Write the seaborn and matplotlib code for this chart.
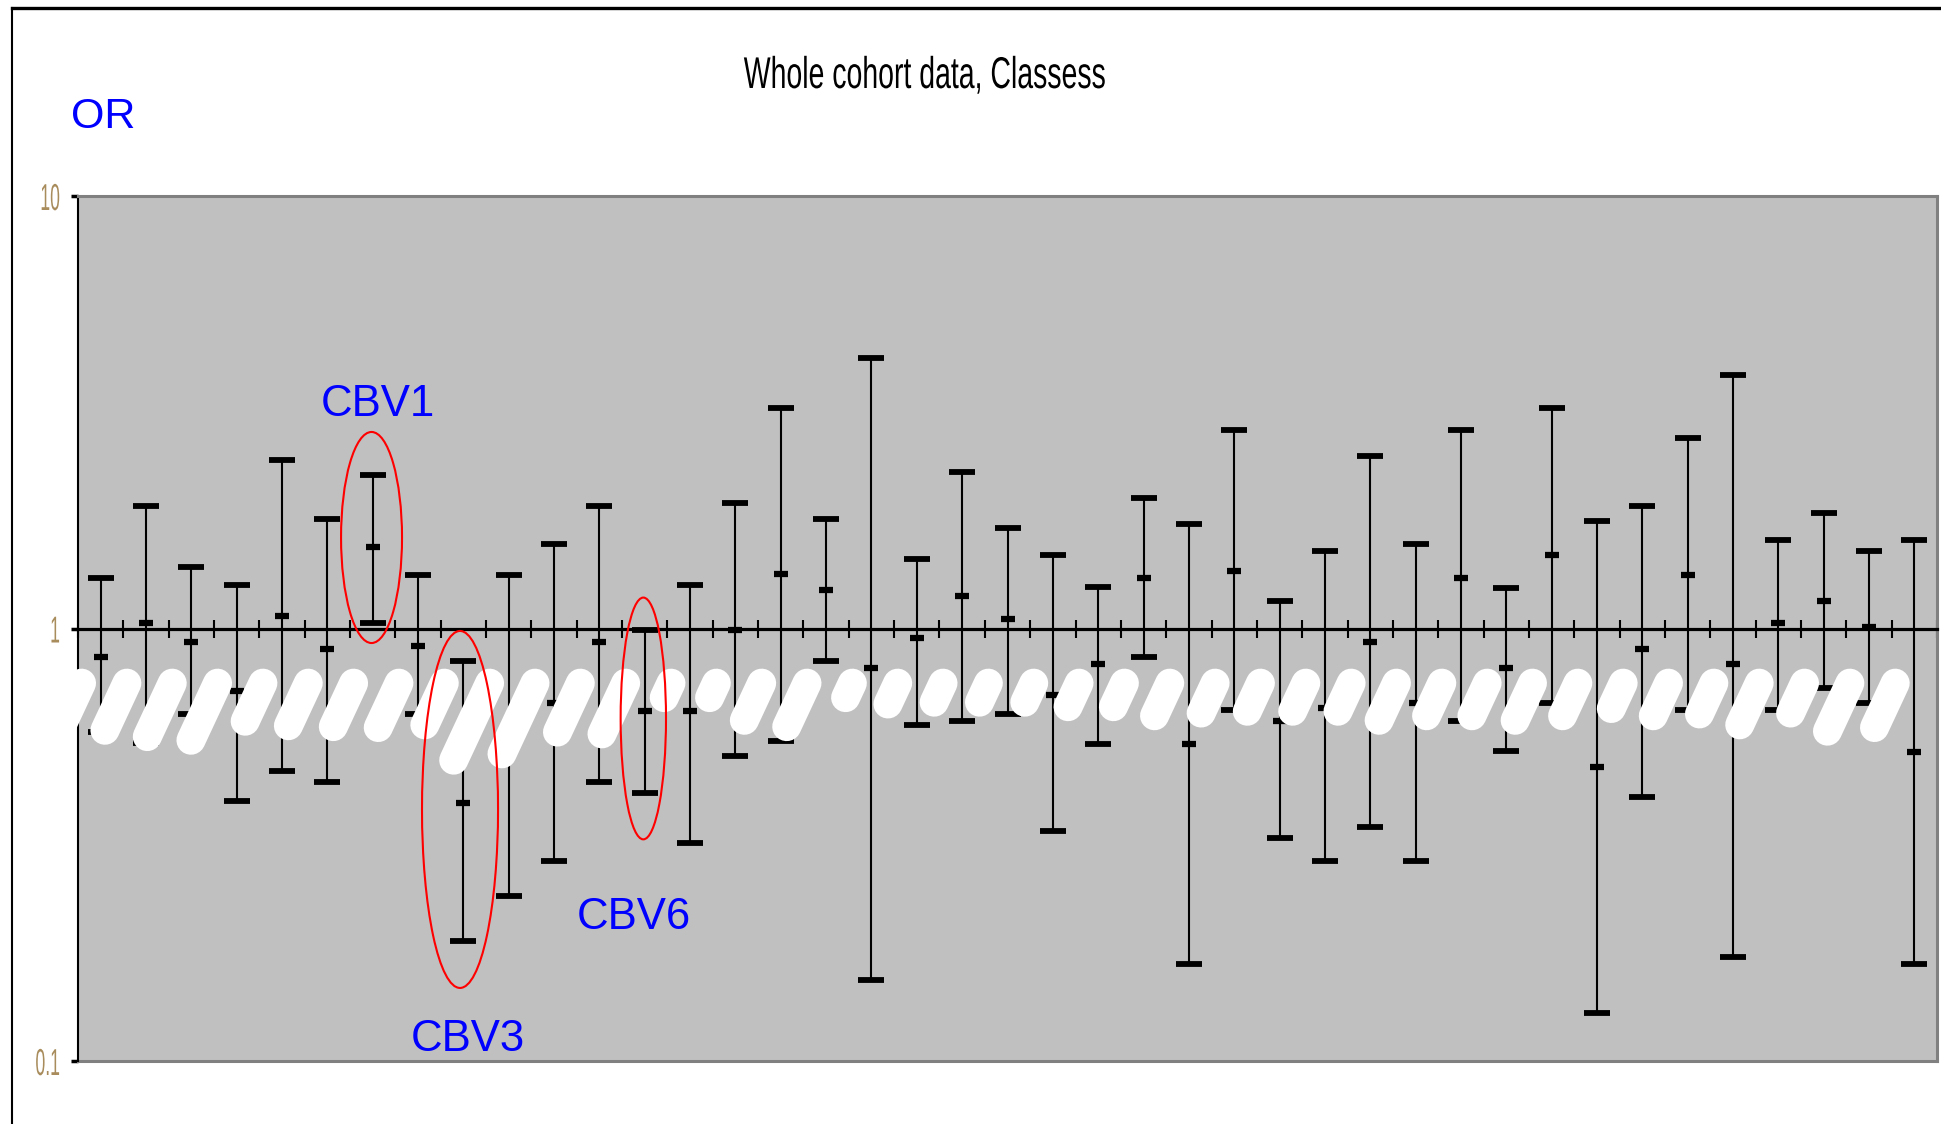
import numpy as np
import pandas as pd
import matplotlib
matplotlib.use("Agg")
import matplotlib.pyplot as plt
import seaborn as sns
from matplotlib.patches import Ellipse
from matplotlib.lines import Line2D
from matplotlib.ticker import NullLocator, FixedLocator
from matplotlib.patheffects import AbstractPathEffect
from matplotlib.transforms import Affine2D

# ---------------- data (odds ratio with confidence interval per class) -------------
class_ids = list(range(1, 42))
or_low = [0.575, 0.545, 0.634, 0.40, 0.469, 0.441, 1.03, 0.634, 0.189, 0.241,
          0.29, 0.441, 0.416, 0.319, 0.507, 0.548, 0.843, 0.154, 0.598, 0.61,
          0.636, 0.34, 0.541, 0.861, 0.168, 0.648, 0.328, 0.29, 0.347, 0.29,
          0.612, 0.52, 0.674, 0.129, 0.408, 0.648, 0.174, 0.648, 0.73, 0.674, 0.168]
or_mid = [0.86, 1.03, 0.93, 0.717, 1.07, 0.896, 1.54, 0.91, 0.395, 0.57,
          0.672, 0.93, 0.646, 0.646, 0.99, 1.34, 1.23, 0.81, 0.95, 1.19,
          1.05, 0.701, 0.826, 1.31, 0.541, 1.36, 0.61, 0.655, 0.929, 0.674,
          1.31, 0.81, 1.48, 0.478, 0.896, 1.33, 0.826, 1.03, 1.16, 1.01, 0.519]
or_high = [1.31, 1.92, 1.39, 1.26, 2.45, 1.79, 2.26, 1.33, 0.84, 1.33,
           1.57, 1.92, 0.99, 1.26, 1.95, 3.24, 1.79, 4.23, 1.45, 2.30,
           1.71, 1.48, 1.25, 2.0, 1.74, 2.87, 1.16, 1.51, 2.50, 1.57,
           2.87, 1.24, 3.24, 1.77, 1.92, 2.76, 3.85, 1.60, 1.85, 1.51, 1.60]
y_ticks = [0.1, 1, 10]
y_tick_labels = ["0.1", "1", "10"]
title_text = "Whole cohort data, Classess"
highlight_labels = ["CBV1", "CBV3", "CBV6"]

# lengths (px) of the white redaction marks covering the hidden class labels
redaction_len = [90, 81, 88, 92, 71, 76, 77, 78, 75, 114, 107, 83, 85, 45, 45, 70,
                 77, 45, 52, 50, 50, 50, 55, 55, 65, 62, 60, 60, 60, 70, 65, 65,
                 70, 65, 57, 65, 63, 75, 62, 82, 78]

n = len(class_ids)
df = pd.DataFrame({"pos": np.arange(n), "cls": class_ids,
                   "low": or_low, "mid": or_mid, "high": or_high})


class HStretch(AbstractPathEffect):
    """Horizontally condense a text (narrow font look) around an anchor."""

    def __init__(self, sx, text, anchor="center"):
        super().__init__()
        self.sx = sx
        self.text = text
        self.anchor = anchor

    def draw_path(self, renderer, gc, tpath, affine, rgbFace=None):
        bb = self.text.get_window_extent(renderer)
        x0 = {"center": 0.5 * (bb.x0 + bb.x1), "right": bb.x1, "left": bb.x0}[self.anchor]
        aff = affine + Affine2D().translate(-x0, 0).scale(self.sx, 1).translate(x0, 0)
        renderer.draw_path(gc, tpath, aff, rgbFace)


# ---------------- figure ----------------
W, H = 1941, 1124
fig = plt.figure(figsize=(W / 100, H / 100), dpi=100)
fig.patch.set_facecolor("white")
ax_l, ax_r, ax_t, ax_b = 78, 1937, 196, 1061
ax = fig.add_axes([ax_l / W, 1 - ax_b / H, (ax_r - ax_l) / W, (ax_b - ax_t) / H])
ax_w_px, ax_h_px = ax_r - ax_l, ax_b - ax_t
ax.set_facecolor("#C0C0C0")
ax.set_yscale("log")
ax.set_ylim(0.1, 10)
ax.set_xlim(-0.5, n - 0.5)

sans = ["Liberation Sans", "DejaVu Sans"]

# error bars (CI) and point estimates
ax.errorbar(df["pos"], df["mid"],
            yerr=[df["mid"] - df["low"], df["high"] - df["mid"]],
            fmt="none", ecolor="black", elinewidth=1.5,
            capsize=9.7, capthick=4.2, zorder=3)
sns.scatterplot(data=df, x="pos", y="mid", marker="_", s=90, color="black",
                linewidth=4.5, ax=ax, zorder=4, legend=False)
ax.set_xlabel("")
ax.set_ylabel("")

# spines / axes lines
for s in ["top", "right"]:
    ax.spines[s].set_color("#808080")
    ax.spines[s].set_linewidth(2.2)
ax.spines["left"].set_color("black")
ax.spines["left"].set_linewidth(1.5)
ax.spines["bottom"].set_position(("data", 1))
ax.spines["bottom"].set_color("black")
ax.spines["bottom"].set_linewidth(2.3)
ax.plot([0, 1], [0, 0], transform=ax.transAxes, color="#808080", lw=2.2,
        clip_on=False, zorder=2)

ax.xaxis.set_major_locator(FixedLocator(np.arange(-0.5, n, 1.0)))
ax.tick_params(axis="x", direction="inout", length=13, width=1.5,
               color="black", labelbottom=False)
ax.set_yticks(y_ticks)
ax.set_yticklabels(y_tick_labels, family=sans)
ax.yaxis.set_minor_locator(NullLocator())
ax.tick_params(axis="y", direction="out", length=5, width=2.5, pad=8,
               labelsize=27, labelcolor="#a88c5c", color="black")
for lbl in ax.get_yticklabels():
    lbl.set_path_effects([HStretch(0.47, lbl, "right")])

# white redaction marks over the class labels
ang = np.deg2rad(65)
d = np.array([-np.cos(ang), -np.sin(ang)])
w = 29
top_y = ax_h_px - (670 - ax_t)
for k in range(n):
    top = np.array([(k + 0.5) / n * ax_w_px - 13, top_y])
    L = redaction_len[k]
    p0 = top + d * (w / 2)
    p1 = top + d * max(L - w / 2, w / 2 + 1)
    ax.plot([p0[0] / ax_w_px, p1[0] / ax_w_px], [p0[1] / ax_h_px, p1[1] / ax_h_px],
            transform=ax.transAxes, color="white", lw=w * 0.72,
            solid_capstyle="round", clip_on=False, zorder=5)

# red ellipses (axes-fraction geometry) and blue labels
ellipses = [((0.1579, 0.6052), 0.0328, 0.244),
            ((0.2055, 0.2908), 0.0409, 0.4127),
            ((0.3041, 0.3960), 0.0244, 0.2795)]
for (c, ew, eh) in ellipses:
    ax.add_patch(Ellipse(c, ew, eh, transform=ax.transAxes, fill=False,
                         edgecolor="#FF0000", lw=1.5, zorder=6, clip_on=False))

label_pos = [(6.12, 3.10), (8.09, 0.1055), (11.76, 0.2017)]
for txt, (lx, ly) in zip(highlight_labels, label_pos):
    ax.text(lx, ly, txt, ha="center", va="baseline", fontsize=31.5,
            color="#0000FF", family=sans, zorder=7)

# titles
ttl = fig.text(925 / W, 1 - 88 / H, title_text, ha="center", va="baseline",
               fontsize=32, color="black", family=sans)
ttl.set_path_effects([HStretch(0.64, ttl, "center")])
fig.text(71 / W, 1 - 128 / H, "OR", ha="left", va="baseline", fontsize=31,
         color="#0000FF", family=sans)

# outer chart frame (top and left edges)
fig.add_artist(Line2D([12 / W, 1], [1 - 7.5 / H, 1 - 7.5 / H], color="black",
                      lw=2.4, transform=fig.transFigure))
fig.add_artist(Line2D([12 / W, 12 / W], [0, 1 - 7.5 / H], color="black",
                      lw=1.5, transform=fig.transFigure))

fig.savefig("out.png", dpi=100, facecolor="white")
